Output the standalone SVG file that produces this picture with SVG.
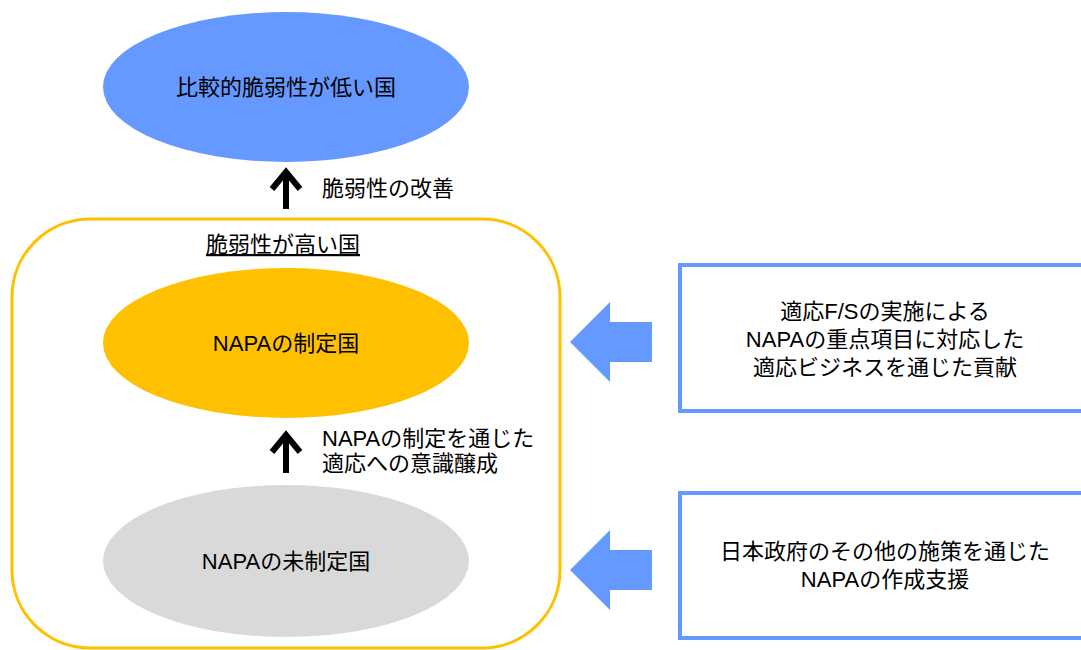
<svg xmlns="http://www.w3.org/2000/svg" width="1081" height="650" viewBox="0 0 1081 650">
<style>
text{font-family:"Liberation Sans","Noto Sans CJK JP",sans-serif;font-size:22px;fill:#000;}
.c{text-anchor:middle;}
.blk{fill:#6699FF;}
.box{fill:#fff;stroke:#6699FF;stroke-width:4;}
.arr{fill:none;stroke:#000;stroke-width:6;stroke-linejoin:miter;}
</style>
<rect width="1081" height="650" fill="#fff"/>
<g id="group-high">
<rect x="12" y="219" width="548" height="429" rx="78" ry="78" fill="none" stroke="#FFC000" stroke-width="3"/>
<text x="283" y="252" class="c" text-decoration="underline">脆弱性が高い国</text>
</g>
<g id="node-low">
<ellipse cx="286" cy="87" rx="183" ry="75" fill="#6699FF"/>
<text x="286" y="95" class="c">比較的脆弱性が低い国</text>
</g>
<g id="node-napa">
<ellipse cx="286" cy="343" rx="183" ry="75" fill="#FFC000"/>
<text x="286" y="351" class="c">NAPAの制定国</text>
</g>
<g id="node-nonapa">
<ellipse cx="286" cy="561" rx="183" ry="76" fill="#D9D9D9"/>
<text x="286" y="569" class="c">NAPAの未制定国</text>
</g>
<g id="box-fs">
<rect x="680" y="265" width="420" height="146" class="box"/>
<text x="885" y="319" class="c">適応F/Sの実施による</text>
<text x="885" y="347" class="c">NAPAの重点項目に対応した</text>
<text x="885" y="375" class="c">適応ビジネスを通じた貢献</text>
</g>
<g id="box-gov">
<rect x="680" y="493" width="420" height="145" class="box"/>
<text x="885" y="559" class="c">日本政府のその他の施策を通じた</text>
<text x="885" y="587" class="c">NAPAの作成支援</text>
</g>
<g id="connectors">
<path class="arr" d="M286,209 L286,172 M272,189 L286,172 L300,189"/>
<text x="322" y="196">脆弱性の改善</text>
<path class="arr" d="M286,473 L286,435 M272,452 L286,435 L300,452"/>
<text x="322" y="446">NAPAの制定を通じた</text>
<text x="322" y="471">適応への意識醸成</text>
<path class="blk" d="M570,342 L610,302 L610,322 L652,322 L652,362 L610,362 L610,382 z"/>
<path class="blk" d="M570,570 L610,530 L610,550 L652,550 L652,590 L610,590 L610,610 z"/>
</g>
</svg>
